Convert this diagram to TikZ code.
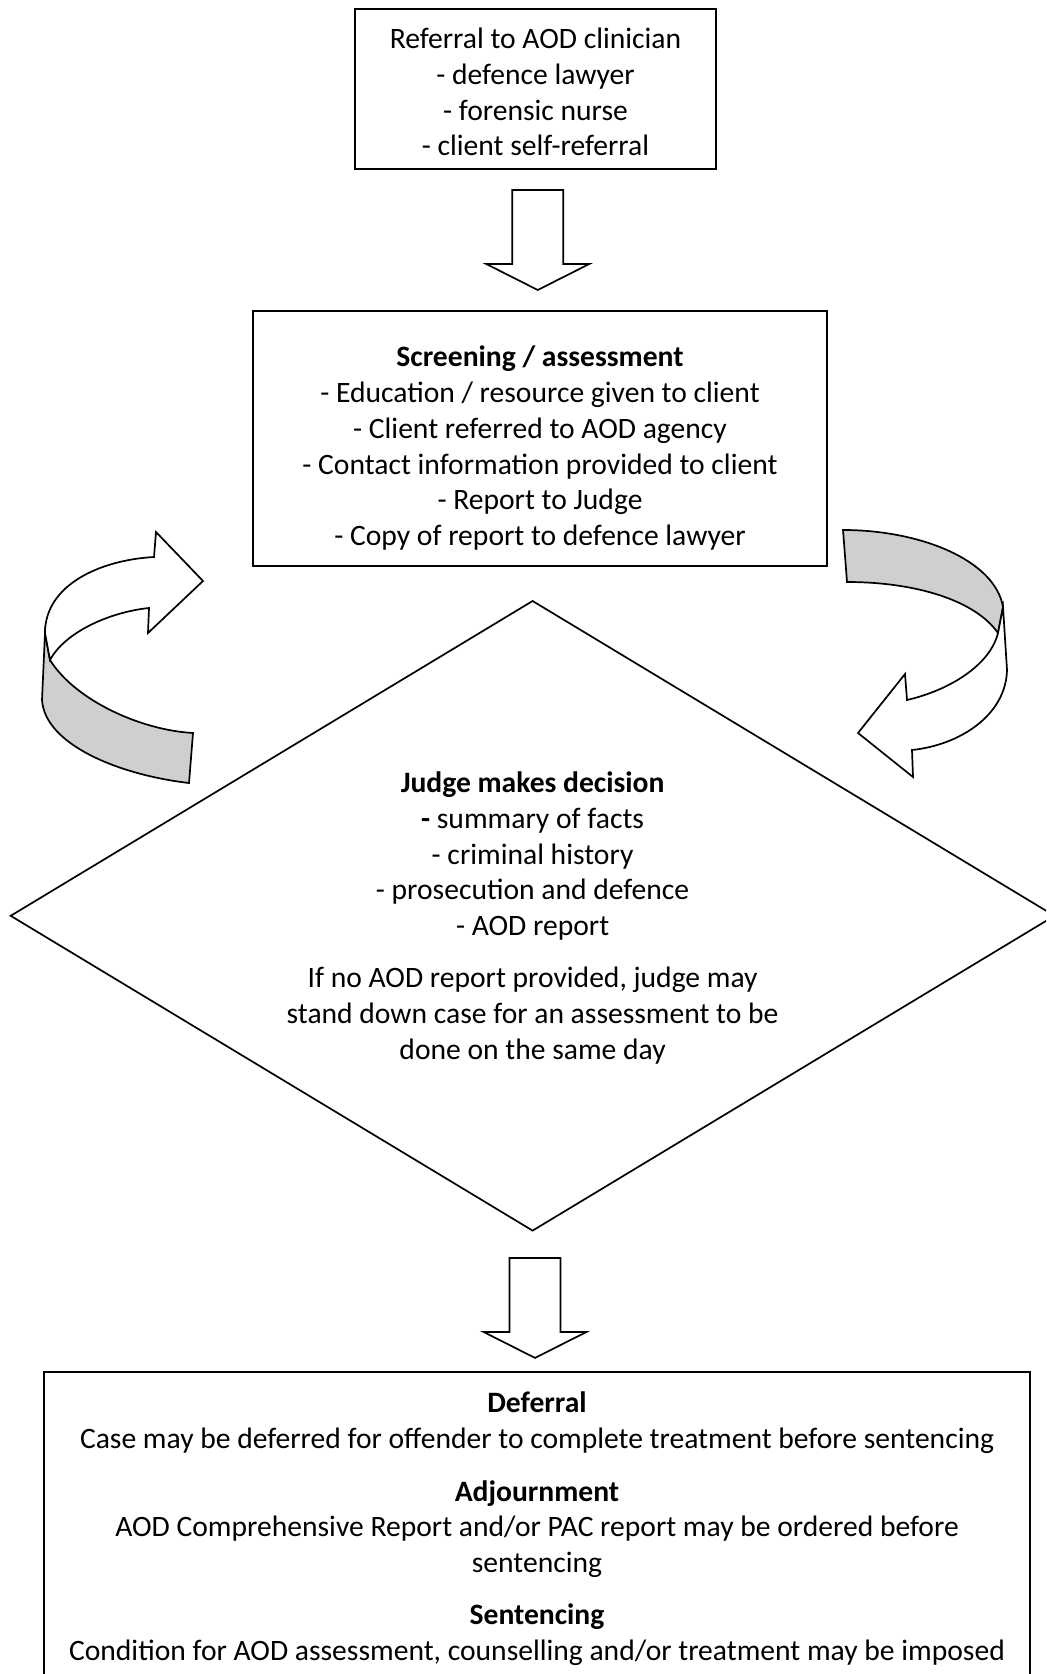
\documentclass[tikz,border=0pt]{standalone}
\usepackage{fontspec}
\setmainfont{Carlito}
\usetikzlibrary{positioning,calc}
\definecolor{bandgray}{HTML}{CFCFCF}
\tikzset{
  box/.style={rectangle, draw=black, line width=0.85pt, align=center, inner sep=0pt},
  plain/.style={align=center, inner sep=0pt},
  blockarr/.style={draw=black, fill=white, line width=0.85pt, line join=miter},
  band/.style={draw=black, fill=bandgray, line width=0.85pt},
  downblock/.pic={
    \draw[blockarr] (-25.5,-50) -- (-25.5,24) -- (-51.5,24) -- (0,50) -- (51.5,24) -- (25.5,24) -- (25.5,-50) -- cycle;
  },
}
\begin{document}
\begin{tikzpicture}[x=0.5pt, y=-0.5pt, font=\fontsize{14.8pt}{17.9pt}\selectfont]
  \useasboundingbox (0,0) rectangle (1046,1674);
  \begin{scope}
    \clip (0,0) rectangle (1046,1674);
    \node[box, minimum width=180.5pt, minimum height=80pt] (referral) at (535.5,89) {};
    \node[plain] (referraltext) at ($(referral.center)+(0,3)$)
      {Referral to AOD clinician\\- defence lawyer\\- forensic nurse\\- client self-referral};
    \node[box, minimum width=287pt, minimum height=127.5pt] (screen) at (540,438.5) {};
    \node[plain] (screentext) at ($(screen.center)+(0,9.6)$)
      {\textbf{Screening / assessment}\\- Education / resource given to client\\- Client referred to AOD agency\\- Contact information provided to client\\- Report to Judge\\- Copy of report to defence lawyer};
    % decision diamond
    \coordinate (dtop) at (532.6,601);
    \coordinate (dright) at (1054.5,915.8);
    \coordinate (dbottom) at (532.6,1230.6);
    \coordinate (dleft) at (10.7,915.8);
    \draw[line width=0.85pt] (dtop) -- (dright) -- (dbottom) -- (dleft) -- cycle;
    \node[plain] (decision) at (532.6,918)
      {\textbf{Judge makes decision}\\\textbf{-} summary of facts\\- criminal history\\- prosecution and defence\\- AOD report\\[8.25pt]If no AOD report provided, judge may\\stand down case for an assessment to be\\done on the same day};
    \node[box, minimum width=493pt, minimum height=157pt] (outcome) at (537,1529)
      {\textbf{Deferral}\\Case may be deferred for offender to complete treatment before sentencing\\[8.25pt]\textbf{Adjournment}\\AOD Comprehensive Report and/or PAC report may be ordered before\\sentencing\\[8.25pt]\textbf{Sentencing}\\Condition for AOD assessment, counselling and/or treatment may be imposed};
    % block arrows
    \pic at ($(referral.south)!0.5!(screen.north)$) {downblock};
    \pic at ($(dbottom)!0.55!(outcome.north)$) {downblock};
    % curved arrow, decision back to screening
    \draw[band] (45,633) -- (42,700) .. controls (45,745) and (120,775) .. (189,783) -- (193,733) .. controls (140,730) and (75,700) .. (50,660) -- cycle;
    \draw[blockarr] (45,633) .. controls (45,585) and (100,560) .. (154,557) -- (156,532) -- (203,581) -- (148,633) -- (149,608) .. controls (110,612) and (65,632) .. (50,660) -- cycle;
    % curved arrow, screening to decision
    \draw[band] (843,530) .. controls (920,530) and (995,560) .. (1003,607) -- (998,633) .. controls (975,600) and (915,582) .. (847,582) -- cycle;
    \draw[blockarr] (1003,607) -- (1007,670) .. controls (1006,715) and (960,745) .. (912,750) -- (913,777) -- (858,733) -- (905,674) -- (907,700) .. controls (950,690) and (990,665) .. (998,633) -- cycle;
  \end{scope}
\end{tikzpicture}
\end{document}
